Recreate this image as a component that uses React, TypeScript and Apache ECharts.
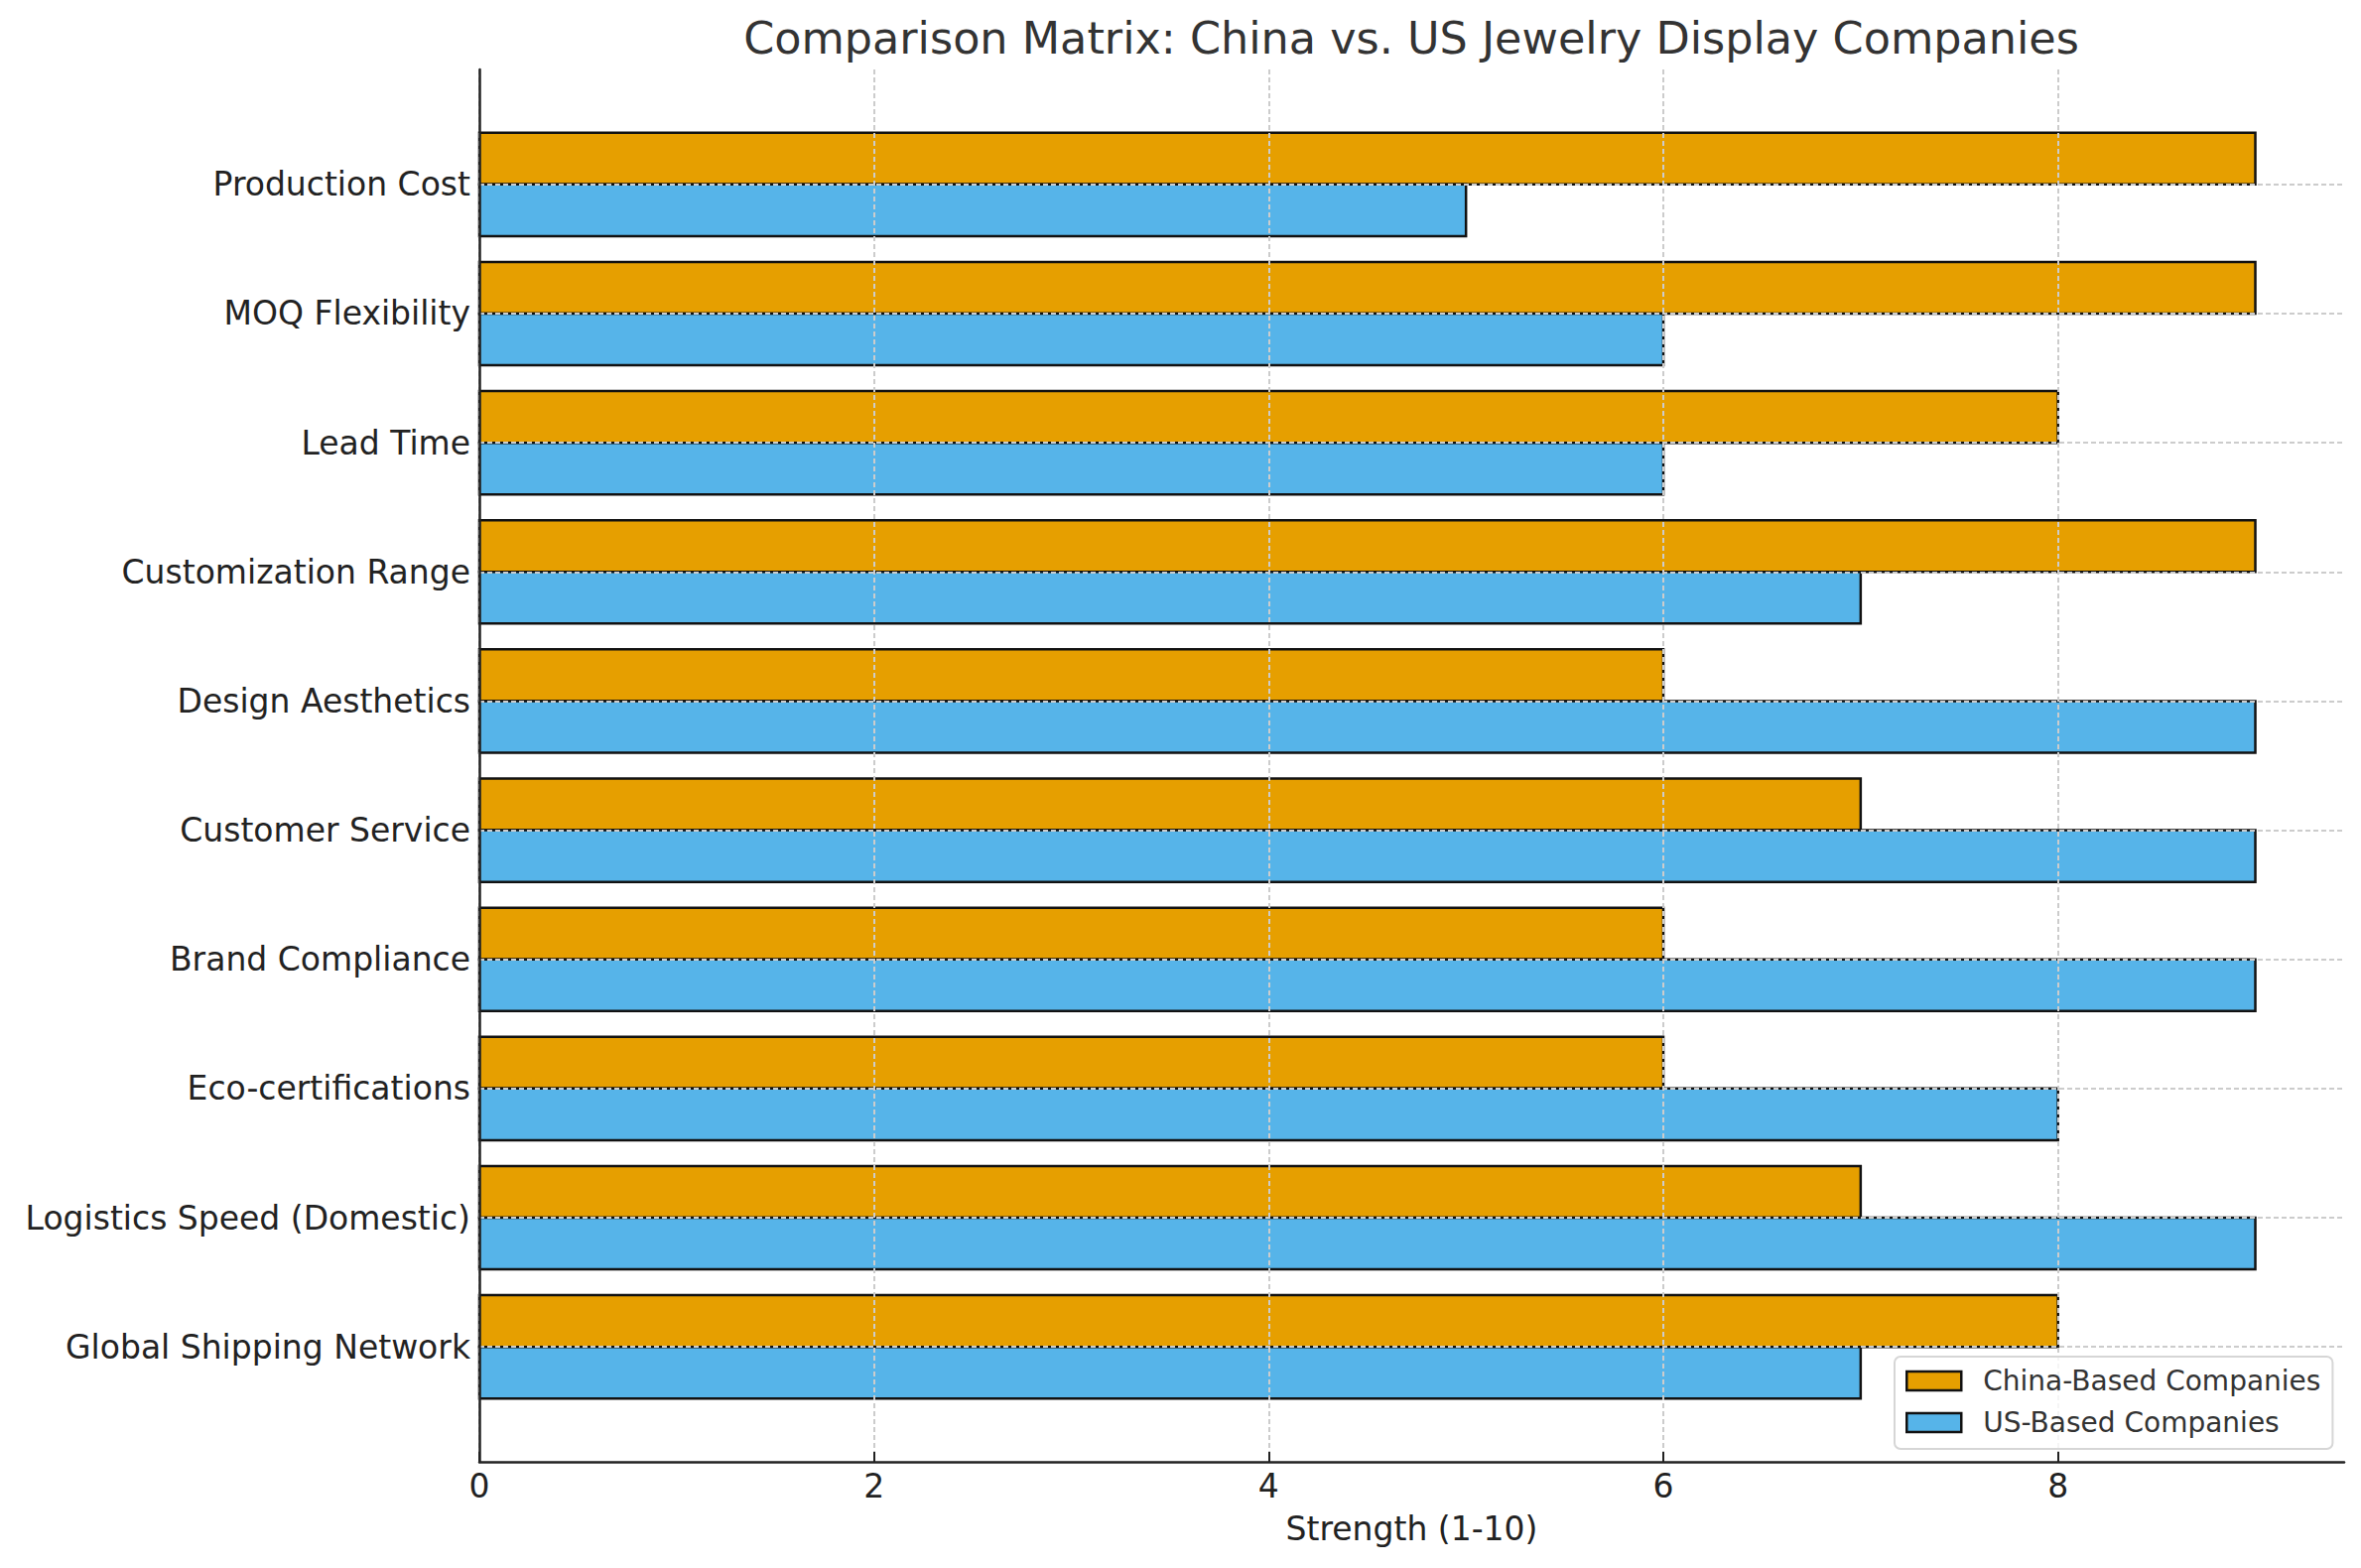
import React, { useEffect, useRef } from 'react';
import * as echarts from 'echarts';

const titleText = 'Comparison Matrix: China vs. US Jewelry Display Companies';
const xAxisName = 'Strength (1-10)';
const categories = [
  'Production Cost',
  'MOQ Flexibility',
  'Lead Time',
  'Customization Range',
  'Design Aesthetics',
  'Customer Service',
  'Brand Compliance',
  'Eco-certifications',
  'Logistics Speed (Domestic)',
  'Global Shipping Network',
];
const seriesNames = ['China-Based Companies', 'US-Based Companies'];
const chinaValues = [9, 9, 8, 9, 6, 7, 6, 6, 7, 8];
const usValues = [5, 6, 6, 7, 9, 9, 9, 8, 9, 7];
const xTicks = [0, 2, 4, 6, 8];
const yTicks = categories.map((_, i) => i);

const FONT = 'DejaVu Sans';
const ORANGE = '#E69F00';
const BLUE = '#56B4E9';
const EDGE = '#111111';

function makeSeries(name: string, values: number[], color: string, off0: number, off1: number) {
  return {
    type: 'custom',
    name,
    itemStyle: { color, borderColor: EDGE, borderWidth: 2.5 },
    encode: { x: 0, y: 1 },
    data: values.map((v, i) => [v, i]),
    renderItem: (_params: any, api: any) => {
      const v = api.value(0);
      const i = api.value(1);
      const a = api.coord([0, i + off0]);
      const b = api.coord([v, i + off1]);
      return {
        type: 'rect',
        shape: {
          x: a[0],
          y: Math.min(a[1], b[1]),
          width: b[0] - a[0],
          height: Math.abs(b[1] - a[1]),
        },
        style: { fill: color, stroke: EDGE, lineWidth: 2.5 },
      };
    },
  };
}

export default function App() {
  const ref = useRef<HTMLDivElement>(null);
  useEffect(() => {
    if (!ref.current) return;
    const chart = echarts.init(ref.current, undefined, { renderer: 'svg' });
    const gridLine = { show: true, lineStyle: { color: '#cccccc', width: 2, type: [5, 3] } };
    chart.setOption({
      animation: false,
      backgroundColor: '#ffffff',
      textStyle: { fontFamily: FONT },
      grid: { left: 483, top: 70, width: 1879, height: 1403, containLabel: false },
      graphic: [
        {
          type: 'text',
          x: 1422,
          y: 38,
          style: {
            text: titleText,
            fontFamily: FONT,
            fontSize: 44.5,
            fill: '#333333',
            textAlign: 'center',
            textVerticalAlign: 'middle',
          },
        },
      ],
      legend: {
        orient: 'vertical',
        left: 1909,
        top: 1367,
        z: 10,
        padding: [10, 12, 12, 11],
        itemWidth: 55,
        itemHeight: 19,
        itemGap: 13,
        icon: 'rect',
        backgroundColor: 'rgba(255,255,255,0.8)',
        borderColor: '#d6d6d6',
        borderWidth: 2,
        borderRadius: 6,
        textStyle: { fontFamily: FONT, fontSize: 28, color: '#333333', lineHeight: 29, padding: [0, 0, 0, 17] },
        data: [
          { name: seriesNames[0], itemStyle: { color: ORANGE, borderColor: EDGE, borderWidth: 2.5 } },
          { name: seriesNames[1], itemStyle: { color: BLUE, borderColor: EDGE, borderWidth: 2.5 } },
        ],
      },
      xAxis: {
        type: 'value',
        min: 0,
        max: 9.45,
        z: 3,
        name: xAxisName,
        nameLocation: 'middle',
        nameGap: 51,
        nameTextStyle: { fontFamily: FONT, fontSize: 33, color: '#222222' },
        axisLine: { show: true, onZero: false, lineStyle: { color: '#222222', width: 2.5 } },
        axisTick: { show: true, inside: true, length: 10, lineStyle: { color: '#222222', width: 2 }, customValues: xTicks },
        axisLabel: { fontFamily: FONT, fontSize: 33, color: '#222222', margin: 8, customValues: xTicks },
        splitLine: gridLine,
      },
      yAxis: {
        type: 'value',
        inverse: true,
        min: -0.89,
        max: 9.89,
        z: 3,
        axisLine: { show: true, onZero: false, lineStyle: { color: '#222222', width: 2.5 } },
        axisTick: { show: false, customValues: yTicks },
        axisLabel: {
          fontFamily: FONT,
          fontSize: 33,
          color: '#222222',
          margin: 9,
          customValues: yTicks,
          formatter: (v: number) => categories[Math.round(v)] ?? '',
        },
        splitLine: gridLine,
      },
      series: [
        makeSeries(seriesNames[0], chinaValues, ORANGE, -0.4, 0),
        makeSeries(seriesNames[1], usValues, BLUE, 0, 0.4),
      ],
    });
    return () => chart.dispose();
  }, []);
  return (
    <div
      ref={ref}
      style={{ position: 'fixed', left: 0, top: 0, width: 2379, height: 1580, background: '#fff' }}
    />
  );
}
